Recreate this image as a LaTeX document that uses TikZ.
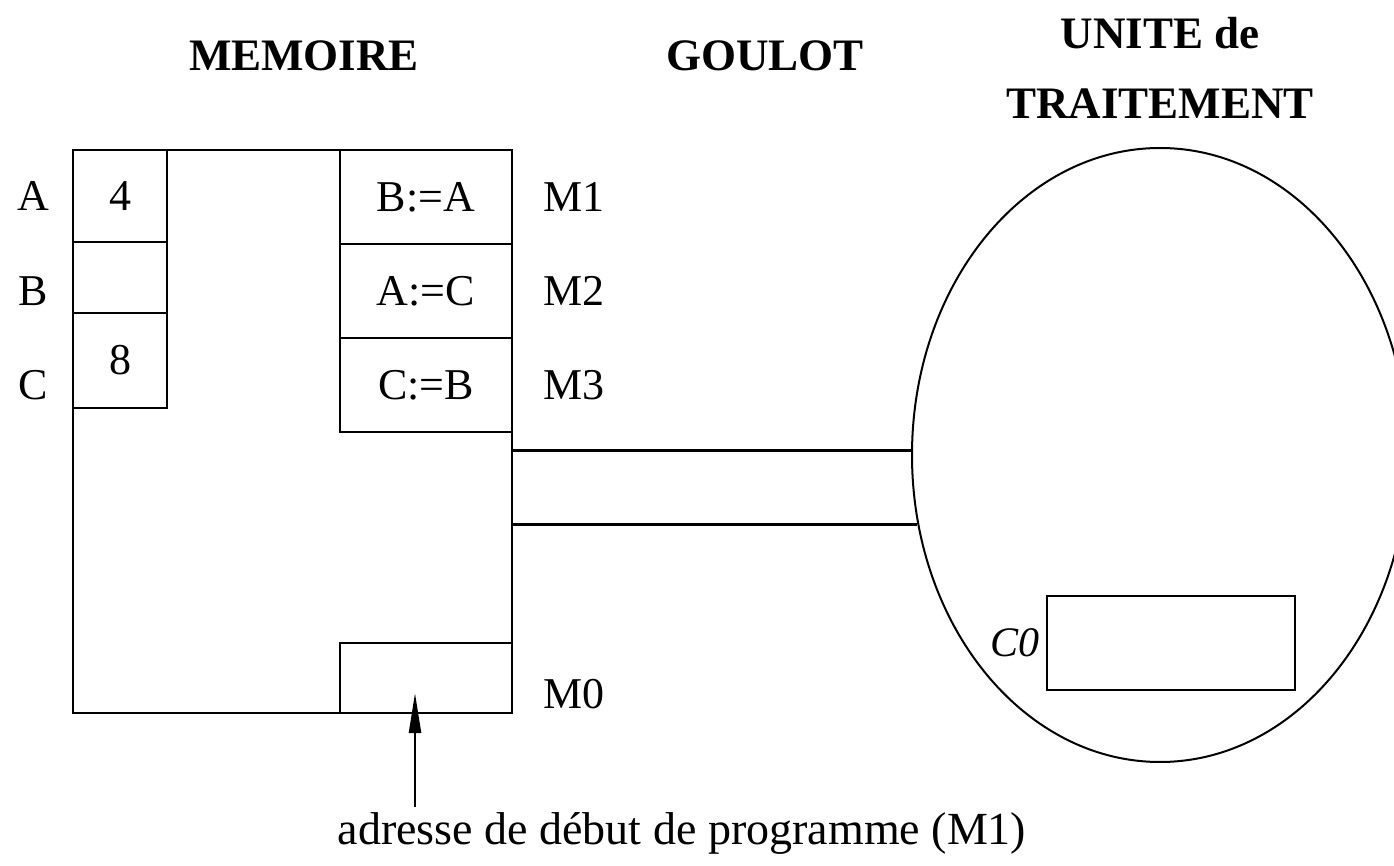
\documentclass[tikz,border=0pt]{standalone}
\usepackage{fontspec}
\setmainfont{Liberation Serif}
\usetikzlibrary{shapes,arrows.meta,positioning}

\begin{document}
\begin{tikzpicture}[x=0.5pt, y=-0.5pt, line width=1.2pt,
  every node/.style={font=\fontsize{22}{24}\selectfont},
  titre/.style={font=\fontsize{22.5}{35}\selectfont\bfseries, align=center},
  case/.style={draw, rectangle, inner sep=0pt, outer sep=0pt, minimum width=47pt},
  instr/.style={draw, rectangle, inner sep=0pt, outer sep=0pt, minimum width=86pt, minimum height=47pt},
  fleche/.style={-{Triangle[length=20pt,width=6pt]}}]
\useasboundingbox (0,0) rectangle (1394,866);
\clip (0,0) rectangle (1394,866);

% titres
\node[titre] (tmem) at (304,56) {MEMOIRE};
\node[titre] (tgoul) at (765,56) {GOULOT};
\node[titre] (tunite) at (1160,68) {UNITE de\\TRAITEMENT};

% memoire
\node[draw, rectangle, inner sep=0pt, outer sep=0pt, minimum width=219.5pt, minimum height=281.5pt] (memoire) at (292.5,431.5) {};

% programme
\node[instr, anchor=north east] (instrM1) at (memoire.north east) {B:=A};
\node[instr, below=0pt of instrM1] (instrM2) {A:=C};
\node[instr, below=0pt of instrM2] (instrM3) {C:=B};
\node[instr, minimum height=35pt, anchor=south east] (instrM0) at (memoire.south east) {};
\node[right=12pt of instrM1] (nomM1) {M1};
\node[right=12pt of instrM2] (nomM2) {M2};
\node[right=12pt of instrM3] (nomM3) {M3};
\node[right=12pt of instrM0, yshift=-8pt] (nomM0) {M0};

% donnees
\node[case, minimum height=46pt, anchor=north west] (caseA) at (memoire.north west) {4};
\node[case, minimum height=35.5pt, below=0pt of caseA] (caseB) {};
\node[case, minimum height=47.5pt, below=0pt of caseB] (caseC) {8};
\node[left=8pt of caseA] (nomA) {A};
\node (nomB) at (nomA |- nomM2) {B};
\node (nomC) at (nomA |- nomM3) {C};

% unite de traitement
\node[draw, ellipse, line width=1pt, inner sep=0pt, minimum width=248pt, minimum height=307pt] (unite) at (1160,455) {};
\node[draw, rectangle, inner sep=0pt, minimum width=124pt, minimum height=47pt] (registre) at (1171,643) {};
\node[left=1.5pt of registre, inner sep=1pt, font=\fontsize{21}{24}\selectfont\itshape] (nomC0) {C0};

% goulot
\draw (memoire.east |- unite.179.5) -- (unite.179.5);
\draw (memoire.east |- unite.196.4) -- (unite.196.4);

% adresse de debut
\node[inner sep=2pt, font=\fontsize{23}{26}\selectfont] (adresse) at (682,833) {adresse de début de programme (M1)};
\coordinate (debut) at (415,693);
\draw[fleche] (adresse.north -| debut) -- (debut);
\end{tikzpicture}
\end{document}
